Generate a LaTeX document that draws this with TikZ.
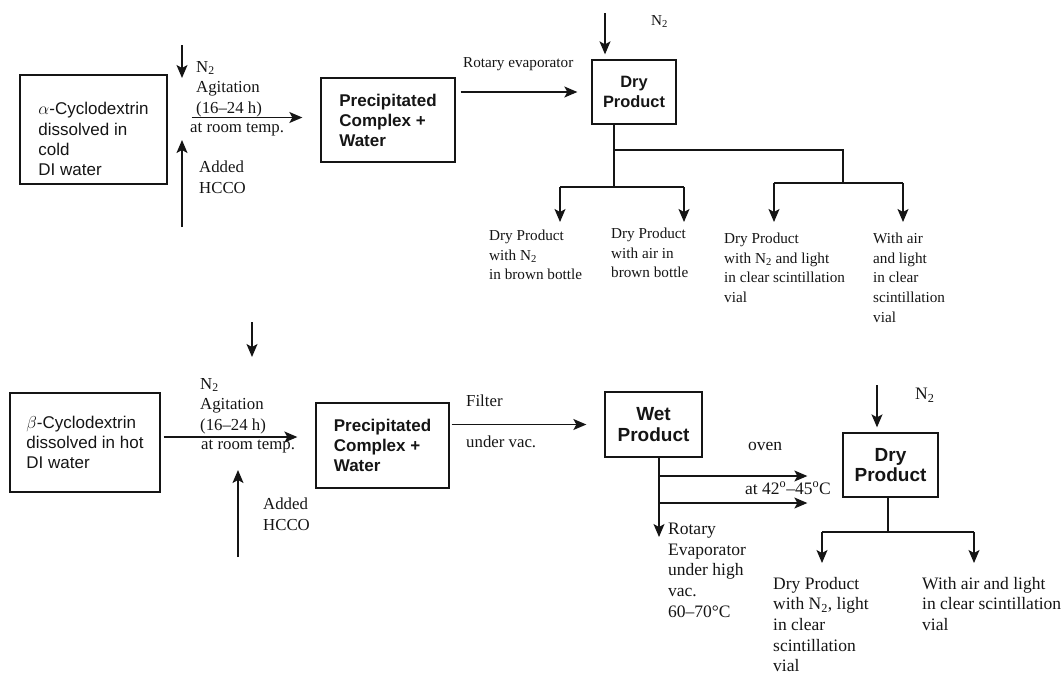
\documentclass[tikz,border=0pt]{standalone}
\usepackage{fontspec}
\setmainfont{Liberation Serif}
\setsansfont{Liberation Sans}
\usepackage{xcolor}
\definecolor{cInk}{HTML}{151515}
\usepackage{tikz}
\usetikzlibrary{positioning,arrows.meta,calc}
\tikzset{
  node-box/.style={draw=cInk,line width=1.3pt,inner sep=0pt,align=left,
    font=\sffamily\bfseries\fontsize{17}{20}\selectfont,text=cInk},
  node-feed/.style={node-box,font=\sffamily\fontsize{17}{20.3}\selectfont},
  node-box-lg/.style={node-box,align=center,font=\sffamily\bfseries\fontsize{19}{20.5}\selectfont},
  note/.style={anchor=north west,inner sep=0pt,align=left,text=cInk,
    font=\fontsize{16.8}{20.5}\selectfont},
  note-sm/.style={note,font=\fontsize{15.2}{19.6}\selectfont},
  note-lg/.style={note,font=\fontsize{17.5}{20.6}\selectfont},
  arrow/.style={-{Stealth[length=13pt,width=11pt,inset=3pt]},line width=1.3pt,draw=cInk},
  line/.style={line width=1.3pt,draw=cInk},
}

\begin{document}
\begin{tikzpicture}[x=1pt,y=-1pt]
  \useasboundingbox (0,0) rectangle (1063,675);
  % alpha-cyclodextrin route
  \node[node-feed,minimum width=147pt,minimum height=109pt] (feed-a) at (93.5,129.5)
    {\rule{0pt}{32pt}$\alpha$-Cyclodextrin\\dissolved in\\cold\\DI water};
  \node[node-box,minimum width=134pt,minimum height=84pt] (precip-a) at (388,120)
    {Precipitated\\Complex +\\Water};
  \node[node-box,align=center,font=\sffamily\bfseries\fontsize{16.4}{19.5}\selectfont,
    minimum width=84pt,minimum height=64pt] (dry-a) at (634,92) {Dry\\Product};
  \node[note] (agit-a) at (196,61) {N\textsubscript{2}\\Agitation\\(16–24 h)};
  \node[note] (temp-a) at (190,123) {at room temp.};
  \node[note] (hcco-a) at (199,161) {Added\\HCCO};
  \node[note-sm] (rotary-a) at (463,57) {Rotary evaporator};
  \node[note-sm] (n2-dry-a) at (651,15) {N\textsubscript{2}};
  \node[note-sm] (out1) at (489,230) {Dry Product\\with N\textsubscript{2}\\in brown bottle};
  \node[note-sm] (out2) at (611,228) {Dry Product\\with air in\\brown bottle};
  \node[note-sm] (out3) at (724,233) {Dry Product\\with N\textsubscript{2} and light\\in clear scintillation\\vial};
  \node[note-sm] (out4) at (873,233) {With air\\and light\\in clear\\scintillation\\vial};

  \coordinate (n2a-top) at (182,45);
  \coordinate (n2a-end) at (182,78);
  \coordinate (hcco-a-foot) at (182,227);
  \coordinate (hcco-a-end) at (182,140);
  \draw[arrow] (n2a-top) -- (n2a-end);
  \draw[arrow] (hcco-a-foot) -- (hcco-a-end);
  \draw[arrow,shorten <=24pt,shorten >=18pt] ([yshift=2.5pt]feed-a.east |- precip-a.west) -- ([yshift=2.5pt]precip-a.west);
  \draw[arrow,shorten <=5pt,shorten >=14pt] (precip-a.east |- dry-a.west) -- (dry-a.west);
  \coordinate (n2b-top) at (605,13);
  \draw[arrow,shorten >=5pt] (n2b-top) -- (n2b-top |- dry-a.north);

  % branches below the dry product
  \coordinate (ja) at (614,187);
  \coordinate (jb) at (614,150);
  \coordinate (jc) at (843,150);
  \coordinate (jd) at (843,183);
  \coordinate (b1) at (560,187);
  \coordinate (b2) at (684,187);
  \coordinate (b3) at (774,183);
  \coordinate (b4) at (903,183);
  \draw[line] (dry-a.south -| ja) -- (ja);
  \draw[line] (jb) -- (jc) -- (jd);
  \draw[line] (b1) -- (b2);
  \draw[line] (b3) -- (b4);
  \draw[arrow,shorten >=8pt] (b1) -- (b1 |- out1.north);
  \draw[arrow,shorten >=6pt] (b2) -- (b2 |- out2.north);
  \draw[arrow,shorten >=11pt] (b3) -- (b3 |- out3.north);
  \draw[arrow,shorten >=11pt] (b4) -- (b4 |- out4.north);

  % beta-cyclodextrin route
  \node[node-feed,minimum width=150pt,minimum height=99pt] (feed-b) at (85,442.5)
    {$\beta$-Cyclodextrin\\dissolved in hot\\DI water};
  \node[node-box,minimum width=133pt,minimum height=85pt] (precip-b) at (382.5,445.5)
    {Precipitated\\Complex +\\Water};
  \node[node-box-lg,minimum width=97pt,minimum height=65pt] (wet-b) at (653.5,424.5) {Wet\\Product};
  \node[node-box-lg,minimum width=95pt,minimum height=64pt] (dry-b) at (890.5,465) {Dry\\Product};
  \node[note] (agit-b) at (200,378) {N\textsubscript{2}\\Agitation\\(16–24 h)};
  \node[note] (temp-b) at (201,440) {at room temp.};
  \node[note] (hcco-b) at (263,498) {Added\\HCCO};
  \node[note] (filter-b) at (466,395) {Filter};
  \node[note] (vac-b) at (466,436) {under vac.};
  \node[note-lg] (oven-b) at (748,442) {oven};
  \node[note-lg] (oven-temp) at (745,482) {at 42\textsuperscript{o}–45\textsuperscript{o}C};
  \node[note-lg] (rotary-b) at (668,523) {Rotary\\Evaporator\\under high\\vac.\\60–70°C};
  \node[note-lg] (n2-dry-b) at (915,388) {N\textsubscript{2}};
  \node[note-lg] (out5) at (773,577) {Dry Product\\with N\textsubscript{2}, light\\in clear\\scintillation\\vial};
  \node[note-lg] (out6) at (922,577) {With air and light\\in clear scintillation\\vial};

  \coordinate (n2-b-top) at (252,322);
  \coordinate (n2-b-end) at (252,357);
  \coordinate (hcco-b-foot) at (238,557);
  \coordinate (hcco-b-end) at (238,470);
  \draw[arrow] (n2-b-top) -- (n2-b-end);
  \draw[arrow] (hcco-b-foot) -- (hcco-b-end);
  \draw[arrow,shorten <=3pt,shorten >=18pt] ([yshift=5.5pt]feed-b.east) -- ([yshift=5.5pt]feed-b.east -| precip-b.west);
  \draw[arrow,shorten <=2pt,shorten >=18pt] (precip-b.east |- wet-b.west) -- (wet-b.west);

  % wet product to oven / rotary evaporator
  \coordinate (ws) at (659,537);
  \coordinate (ov1) at (659,476);
  \coordinate (ov2) at (659,503);
  \draw[arrow] (wet-b.south -| ws) -- (ws);
  \draw[arrow,shorten >=35pt] (ov1) -- (ov1 -| dry-b.west);
  \draw[arrow,shorten >=35pt] (ov2) -- (ov2 -| dry-b.west);
  \coordinate (n2c-top) at (877,385);
  \draw[arrow,shorten >=5pt] (n2c-top) -- (n2c-top |- dry-b.north);

  % branches below the second dry product
  \coordinate (jk) at (888,532);
  \coordinate (b5) at (822,532);
  \coordinate (b6) at (974,532);
  \draw[line] (dry-b.south -| jk) -- (jk);
  \draw[line] (b5) -- (b6);
  \draw[arrow,shorten >=14pt] (b5) -- (b5 |- out5.north);
  \draw[arrow,shorten >=14pt] (b6) -- (b6 |- out6.north);
\end{tikzpicture}
\end{document}
